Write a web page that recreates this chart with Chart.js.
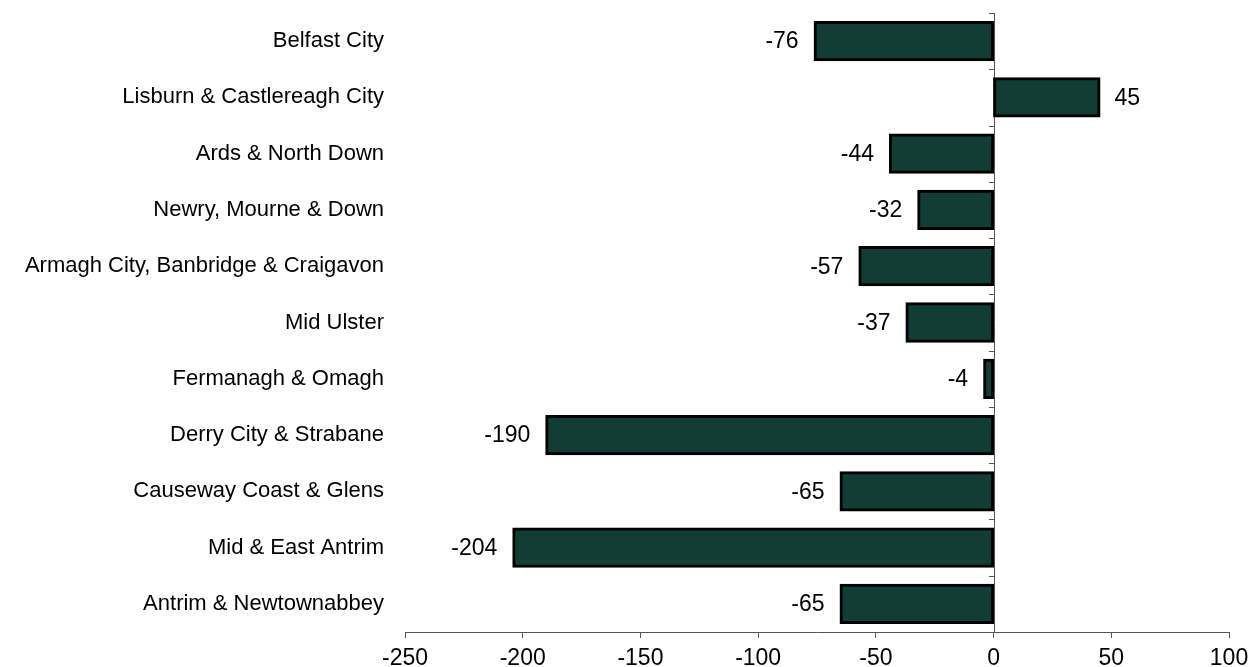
<!DOCTYPE html>
<html>
<head>
<meta charset="utf-8">
<script src="https://cdn.jsdelivr.net/npm/chart.js@4/dist/chart.umd.min.js"></script>
<style>
  html, body { margin: 0; padding: 0; background: #fff; }
  #wrap { width: 1250px; height: 667px; }
</style>
</head>
<body>
<div id="wrap"><canvas id="chart" width="1250" height="667"></canvas></div>
<script>
var councils = [
  "Belfast City",
  "Lisburn & Castlereagh City",
  "Ards & North Down",
  "Newry, Mourne & Down",
  "Armagh City, Banbridge & Craigavon",
  "Mid Ulster",
  "Fermanagh & Omagh",
  "Derry City & Strabane",
  "Causeway Coast & Glens",
  "Mid & East Antrim",
  "Antrim & Newtownabbey"
];
var changes = [-76, 45, -44, -32, -57, -37, -4, -190, -65, -204, -65];
var xTicks = [-250, -200, -150, -100, -50, 0, 50, 100];

var FONT = "'Liberation Sans', Arial, sans-serif";

// axe vertical au zéro avec petites graduations entre catégories
var zeroAxis = {
  id: "zeroAxis",
  beforeDatasetsDraw: function(chart) {
    var ctx = chart.ctx;
    var x = Math.round(chart.scales.x.getPixelForValue(0));
    var y = chart.scales.y;
    ctx.save();
    ctx.strokeStyle = "#555";
    ctx.lineWidth = 1;
    ctx.beginPath();
    ctx.moveTo(x + 0.5, chart.chartArea.top);
    ctx.lineTo(x + 0.5, chart.chartArea.bottom);
    for (var i = 0; i < councils.length; i++) {
      var ty = Math.round(y.getPixelForValue(i - 0.5)) + 0.5;
      ctx.moveTo(x - 5, ty);
      ctx.lineTo(x, ty);
    }
    ctx.stroke();
    ctx.restore();
  }
};

// étiquettes de valeur au bout des barres
var valueLabels = {
  id: "valueLabels",
  afterDatasetsDraw: function(chart) {
    var ctx = chart.ctx;
    var meta = chart.getDatasetMeta(0);
    ctx.save();
    ctx.font = "23px " + FONT;
    ctx.fillStyle = "#000";
    ctx.textBaseline = "middle";
    meta.data.forEach(function(bar, i) {
      var v = changes[i];
      if (v < 0) {
        ctx.textAlign = "right";
        ctx.fillText(String(v), bar.x - 16, bar.y + 1);
      } else {
        ctx.textAlign = "left";
        ctx.fillText(String(v), bar.x + 15, bar.y + 1);
      }
    });
    ctx.restore();
  }
};

new Chart(document.getElementById("chart"), {
  type: "bar",
  data: {
    labels: councils,
    datasets: [{
      data: changes,
      backgroundColor: "#123d37",
      borderColor: "#000",
      borderWidth: 3,
      borderSkipped: false,
      inflateAmount: 1,
      barPercentage: 0.68,
      categoryPercentage: 1
    }]
  },
  options: {
    indexAxis: "y",
    responsive: false,
    animation: false,
    layout: { padding: { top: 13, right: 21, left: 0, bottom: 0 } },
    plugins: {
      legend: { display: false },
      tooltip: { enabled: false }
    },
    scales: {
      x: {
        min: -250,
        max: 100,
        afterBuildTicks: function(scale) {
          scale.ticks = xTicks.map(function(v) { return { value: v }; });
        },
        afterFit: function(scale) {
          scale.height = 35;
          scale.paddingLeft = 0;
          scale.paddingRight = 0;
        },
        grid: {
          drawOnChartArea: false,
          drawTicks: true,
          tickLength: 6,
          color: "#555"
        },
        border: { display: true, color: "#555", width: 1 },
        ticks: {
          color: "#000",
          padding: 7,
          maxRotation: 0,
          font: { family: FONT, size: 23 }
        }
      },
      y: {
        afterFit: function(scale) {
          scale.width = 405;
          scale.paddingTop = 0;
          scale.paddingBottom = 0;
        },
        grid: { display: false },
        border: { display: false },
        ticks: {
          color: "#000",
          padding: 13,
          font: { family: FONT, size: 22 }
        }
      }
    }
  },
  plugins: [zeroAxis, valueLabels]
});
</script>
</body>
</html>
